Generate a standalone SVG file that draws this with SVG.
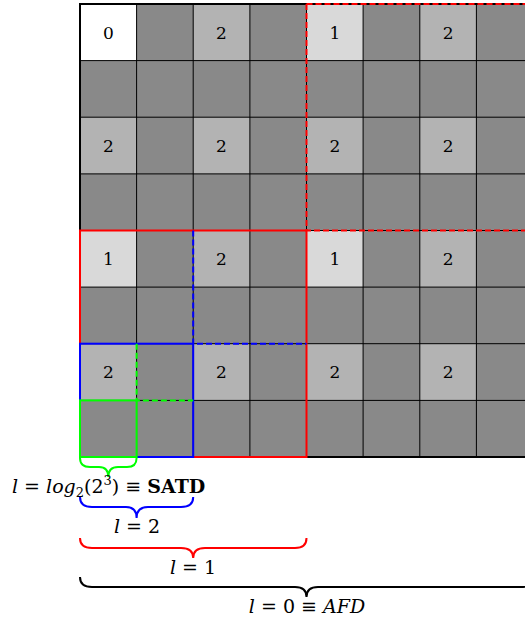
<svg xmlns="http://www.w3.org/2000/svg" width="525" height="623" viewBox="0 0 525 623">
<style>
.c0{fill:#ffffff}.c1{fill:#d9d9d9}.c2{fill:#b3b3b3}.cd{fill:#898989}
.grid{stroke:#000;stroke-width:1;fill:none}
.lbl{font-size:17px;text-anchor:middle;fill:#000}
.math{font-size:19px;fill:#000}
.it{font-style:italic}
.bf{font-weight:bold}
.brace{fill:none;stroke-width:2}
</style>
<g id="cells">
<rect x="80" y="4" width="453" height="453" class="cd"/>
<rect x="80" y="4" width="56.6" height="56.6" class="c0"/>
<rect x="306.5" y="4" width="56.6" height="56.6" class="c1"/>
<rect x="80" y="230.5" width="56.6" height="56.6" class="c1"/>
<rect x="306.5" y="230.5" width="56.6" height="56.6" class="c1"/>
<rect x="193.2" y="4" width="56.6" height="56.6" class="c2"/>
<rect x="419.8" y="4" width="56.6" height="56.6" class="c2"/>
<rect x="80" y="117.2" width="56.6" height="56.6" class="c2"/>
<rect x="193.2" y="117.2" width="56.6" height="56.6" class="c2"/>
<rect x="306.5" y="117.2" width="56.6" height="56.6" class="c2"/>
<rect x="419.8" y="117.2" width="56.6" height="56.6" class="c2"/>
<rect x="193.2" y="230.5" width="56.6" height="56.6" class="c2"/>
<rect x="419.8" y="230.5" width="56.6" height="56.6" class="c2"/>
<rect x="80" y="343.7" width="56.6" height="56.6" class="c2"/>
<rect x="193.2" y="343.7" width="56.6" height="56.6" class="c2"/>
<rect x="306.5" y="343.7" width="56.6" height="56.6" class="c2"/>
<rect x="419.8" y="343.7" width="56.6" height="56.6" class="c2"/>
</g>
<g id="gridlines" class="grid">
<path d="M136.6 4V457M193.2 4V457M249.9 4V457M306.5 4V457M363.1 4V457M419.8 4V457M476.4 4V457M80 60.6H533M80 117.2H533M80 173.9H533M80 230.5H533M80 287.1H533M80 343.7H533M80 400.4H533"/>
<path d="M533 4H80V457H533" stroke-width="2"/>
</g>
<g id="labels" font-family="DejaVu Serif, serif">
<text class="lbl" x="108.3" y="39">0</text>
<text class="lbl" x="221.5" y="39">2</text>
<text class="lbl" x="334.8" y="39">1</text>
<text class="lbl" x="448.1" y="39">2</text>
<text class="lbl" x="108.3" y="152">2</text>
<text class="lbl" x="221.5" y="152">2</text>
<text class="lbl" x="334.8" y="152">2</text>
<text class="lbl" x="448.1" y="152">2</text>
<text class="lbl" x="108.3" y="265">1</text>
<text class="lbl" x="221.5" y="265">2</text>
<text class="lbl" x="334.8" y="265">1</text>
<text class="lbl" x="448.1" y="265">2</text>
<text class="lbl" x="108.3" y="378">2</text>
<text class="lbl" x="221.5" y="378">2</text>
<text class="lbl" x="334.8" y="378">2</text>
<text class="lbl" x="448.1" y="378">2</text>
</g>
<g id="blocks" fill="none" stroke-width="2">
<path d="M306.5 4V230.5H533M306.5 4H533" stroke="#ff0000" stroke-dasharray="6 3"/>
<rect x="80" y="230.5" width="226.5" height="226.5" stroke="#ff0000"/>
<path d="M193.2 230.5V343.7H306.5" stroke="#0000ff" stroke-dasharray="6 3"/>
<rect x="80" y="343.7" width="113.2" height="113.3" stroke="#0000ff"/>
<path d="M136.6 343.7V400.4H193.2" stroke="#00ff00" stroke-dasharray="6 3"/>
<rect x="80" y="400.4" width="56.6" height="56.6" stroke="#00ff00"/>
</g>
<g id="braces" class="brace">
<path stroke="#00ff00" d="M80 458Q80 467 90 467H99Q108.3 467 108.3 477Q108.3 467 118 467H127Q136.6 467 136.6 458"/>
<path stroke="#0000ff" d="M80 497Q80 507 92 507H126Q136.6 507 136.6 518Q136.6 507 148 507H181Q193.2 507 193.2 497"/>
<path stroke="#ff0000" d="M80 538Q80 548 92 548H181Q193.2 548 193.2 558Q193.2 548 205 548H295Q306.5 548 306.5 538"/>
<path stroke="#000000" d="M80 577Q80 587 92 587H295Q306.5 587 306.5 597Q306.5 587 318 587H521Q533 587 533 577"/>
</g>
<g id="texts" font-family="DejaVu Serif, serif">
<text class="math" x="12" y="493"><tspan class="it">l</tspan> = <tspan class="it">log</tspan><tspan font-size="13" dy="4">2</tspan><tspan dy="-4">(2</tspan><tspan font-size="13" dy="-8">3</tspan><tspan dy="8">) ≡ </tspan><tspan class="bf">SATD</tspan></text>
<text class="math" x="137" y="533" text-anchor="middle"><tspan class="it">l</tspan> = 2</text>
<text class="math" x="193" y="574" text-anchor="middle"><tspan class="it">l</tspan> = 1</text>
<text class="math" x="307" y="613" text-anchor="middle"><tspan class="it">l</tspan> = 0 ≡ <tspan class="it">AFD</tspan></text>
</g>
</svg>
